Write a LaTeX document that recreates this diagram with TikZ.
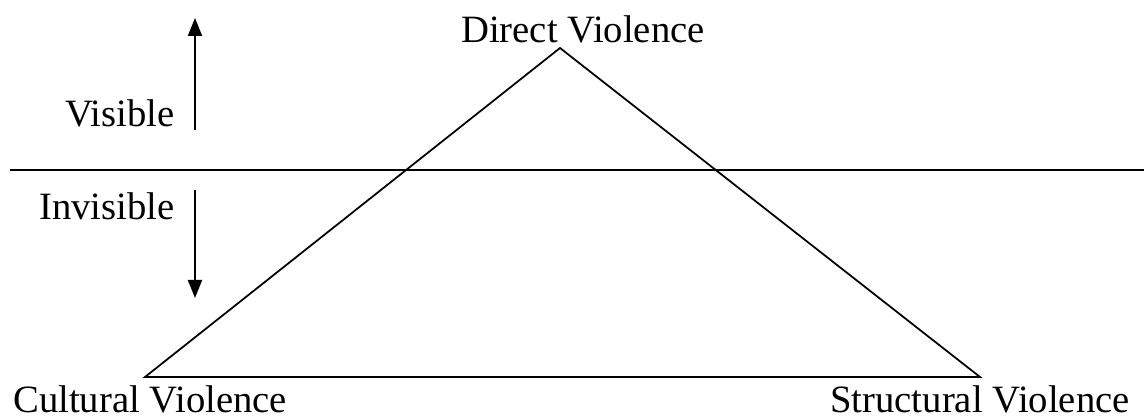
\documentclass[tikz,border=0pt]{standalone}
\usepackage{fontspec}
\setmainfont{Liberation Serif}
\usetikzlibrary{arrows.meta}

\begin{document}
\begin{tikzpicture}[
    lbl/.style={inner sep=0pt, font=\fontsize{22}{26}\selectfont},
    arr/.style={-{Triangle[length=0.36cm, width=0.28cm]}, line width=1.1pt}
  ]
                \useasboundingbox (0,0) rectangle (22.88,8.4);
                % triangle corners
                \coordinate (top) at (11.2,7.44);
                \coordinate (left) at (2.9,0.86);
                \coordinate (right) at (19.6,0.86);
                \draw[line width=1pt] (top) -- (right) -- (left) -- cycle;
                % visibility line
                \coordinate (lineW) at (0.2,5.0);
                \coordinate (lineE) at (22.88,5.0);
                \draw[line width=1pt] (lineW) -- (lineE);
                \coordinate (upA) at (3.9,5.8);
                \coordinate (upB) at (3.9,8.04);
                \coordinate (dnA) at (3.9,4.6);
                \coordinate (dnB) at (3.9,2.44);
                \draw[arr] (upA) -- (upB);
                \draw[arr] (dnA) -- (dnB);
                \node[lbl, anchor=base] (direct) at (11.66,7.54) {Direct Violence};
                \node[lbl, anchor=base east] (visible) at (3.5,5.86) {Visible};
                \node[lbl, anchor=base east] (invisible) at (3.5,4.0) {Invisible};
                \node[lbl, anchor=base west] (cultural) at (0.26,0.14) {Cultural Violence};
                \node[lbl, anchor=base east] (structural) at (22.6,0.14) {Structural Violence};
            \end{tikzpicture}
\end{document}
